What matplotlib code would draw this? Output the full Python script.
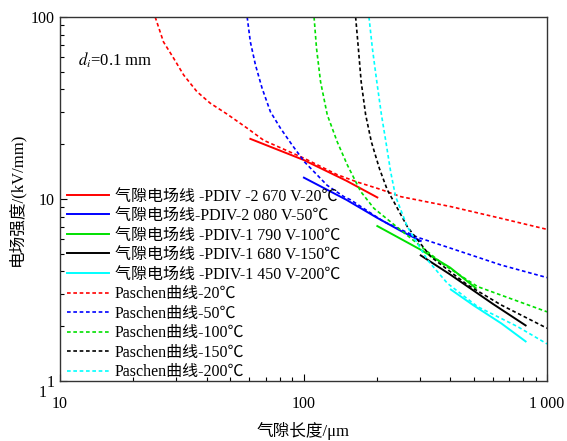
import matplotlib
matplotlib.use("Agg")
import matplotlib.pyplot as plt
from matplotlib.ticker import FixedLocator, FixedFormatter, LogLocator, NullFormatter

plt.rcParams['font.family'] = ['Liberation Serif', 'Noto Sans CJK SC', 'DejaVu Sans']
plt.rcParams['mathtext.fontset'] = 'stix'

colors = ['#ff0000', '#0000ff', '#00e000', '#000000', '#00ffff']

# Gap field lines (solid)
solid_labels = ['气隙电场线 -PDIV -2 670 V-20℃', '气隙电场线-PDIV-2 080 V-50℃',
                '气隙电场线 -PDIV-1 790 V-100℃', '气隙电场线 -PDIV-1 680 V-150℃',
                '气隙电场线 -PDIV-1 450 V-200℃']
solid_x = [[60.5, 100, 150, 201],
           [100.4, 150, 200, 250, 303],
           [201, 300, 400, 510],
           [303, 400, 600, 817],
           [403, 500, 650, 817]]
solid_y = [[21.4, 16.4, 12.6, 10.2],
           [13.1, 9.9, 7.9, 6.7, 5.88],
           [7.1, 5.3, 4.2, 3.24],
           [4.9, 3.85, 2.65, 2.02],
           [3.18, 2.6, 2.07, 1.65]]

# Paschen curves (dashed)
pas_labels = ['Paschen曲线-20℃', 'Paschen曲线-50℃', 'Paschen曲线-100℃',
              'Paschen曲线-150℃', 'Paschen曲线-200℃']
pas_x = [[24.6, 26.6, 29.3, 32.2, 36.5, 41.4, 48.5, 58.7, 68.7, 100, 137.6, 166, 207, 251, 403, 647, 1000],
         [58.7, 60.5, 63.5, 67.6, 73.1, 80.4, 89.8, 100.9, 125, 146.5, 156, 214, 294, 403, 647, 1000],
         [110.5, 113.1, 117.5, 125.2, 137.6, 151.3, 171.7, 194.6, 276, 378, 519, 1000],
         [163.7, 168, 172.5, 180, 190, 205, 221, 235, 267, 333, 472, 647, 1000],
         [185.7, 191.8, 200, 209, 218, 228, 239, 267, 323, 390, 519, 757, 1000]]
pas_y = [[100, 73, 59.3, 48, 38.9, 33.6, 29.3, 24.5, 21, 16.8, 13.6, 12.4, 11.3, 10.3, 9.08, 7.83, 6.81],
         [100, 73, 54.5, 40.6, 30.2, 24.5, 19.8, 16.0, 11.9, 10.3, 9.9, 7.5, 6.16, 5.36, 4.34, 3.70],
         [100, 67.3, 44.1, 29.0, 20.6, 15.4, 11.0, 8.89, 6.08, 4.34, 3.30, 2.40],
         [100, 67.3, 44.1, 29.0, 20.6, 14.7, 11.2, 9.66, 7.04, 4.82, 3.37, 2.62, 1.95],
         [100, 67.3, 44.1, 29.0, 20.6, 14.1, 10.3, 7.04, 4.62, 3.44, 2.56, 1.99, 1.60]]

x_ticks = [10, 100, 1000]
x_ticklabels = ['10', '100', '1\u2009000']
y_ticks = [1, 10, 100]
y_ticklabels = ['1', '10', '100']

fig = plt.figure(figsize=(5.67, 4.41), dpi=100)
ax = fig.add_axes([60/567, 60/441, 487/567, 364/441])

for i in range(5):
    ax.plot(solid_x[i], solid_y[i], color=colors[i], lw=1.4, label=solid_labels[i])
for i in range(5):
    ax.plot(pas_x[i], pas_y[i], color=colors[i], lw=1.2, ls=(0, (2.2, 1.6)), label=pas_labels[i])

ax.set_xscale('log')
ax.set_yscale('log')
ax.set_xlim(10, 1000)
ax.set_ylim(1, 100)
ax.xaxis.set_major_locator(FixedLocator(x_ticks))
ax.xaxis.set_major_formatter(FixedFormatter(x_ticklabels))
ax.yaxis.set_major_locator(FixedLocator(y_ticks))
ax.yaxis.set_major_formatter(FixedFormatter(y_ticklabels))
ax.xaxis.set_minor_locator(LogLocator(base=10, subs=range(2, 10)))
ax.yaxis.set_minor_locator(LogLocator(base=10, subs=range(2, 10)))
ax.xaxis.set_minor_formatter(NullFormatter())
ax.yaxis.set_minor_formatter(NullFormatter())
ax.tick_params(which='both', direction='in', top=False, right=False, labelsize=11.5)
ax.tick_params(which='major', length=5, width=0.8)
ax.tick_params(which='minor', length=3, width=0.8)
ax.tick_params(axis='x', pad=11)
for s in ax.spines.values():
    s.set_color('#333333')
    s.set_linewidth(1.0)

ax.set_xlabel('气隙长度/μm', fontsize=12, labelpad=7)
ax.set_ylabel('电场强度/(kV/mm)', fontsize=12, labelpad=4)

ax.text(0.037, 0.88, r'$d_i$=0.1 mm', transform=ax.transAxes, fontsize=12, va='center')
fig.text(43/567, 1 - 393/441, '1', fontsize=11.5, ha='center', va='center')

ax.legend(loc='lower left', bbox_to_anchor=(-0.005, -0.024), frameon=False, fontsize=11.5,
          handlelength=2.6, handletextpad=0.4, labelspacing=0.22, borderaxespad=0.2)

fig.savefig('out.png', dpi=100)
